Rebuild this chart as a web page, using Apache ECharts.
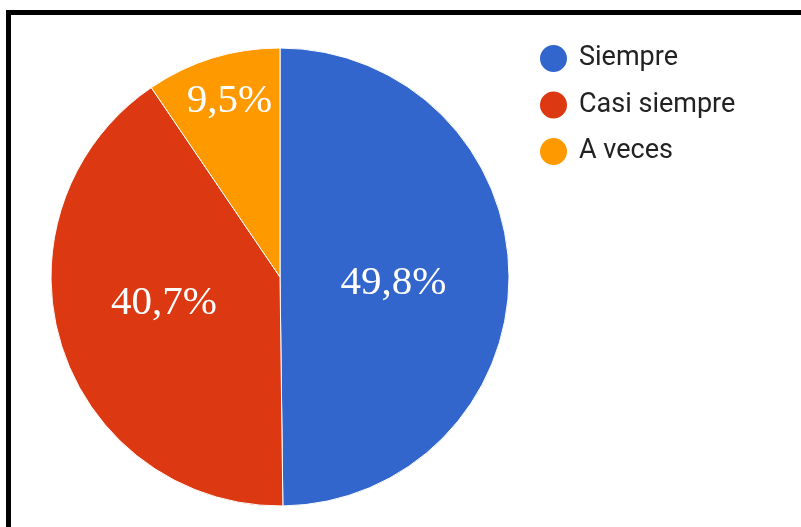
<!DOCTYPE html>
<html>
<head>
<meta charset="utf-8">
<script src="https://cdn.jsdelivr.net/npm/echarts@6/dist/echarts.min.js"></script>
<style>
  html, body { margin: 0; padding: 0; background: #fff; }
  #chart { width: 801px; height: 527px; }
</style>
</head>
<body>
<div id="chart"></div>
<script>
// datos
var categories = ['Siempre', 'Casi siempre', 'A veces'];
var values = [49.8, 40.7, 9.5];
var colors = ['#3366CC', '#DC3912', '#FF9900'];

// small nudges so labels sit where google charts put them
var labelNudges = [[-4, 7], [-4, -9], [-16, -63]];

var pieData = categories.map(function (name, i) {
  return {
    name: name,
    value: values[i],
    itemStyle: { color: colors[i] },
    label: { offset: labelNudges[i] }
  };
});

var option = {
  animation: false,
  backgroundColor: '#fff',
  graphic: [
    {
      type: 'rect',
      shape: { x: 8.5, y: 12.5, width: 900, height: 600 },
      style: { fill: 'none', stroke: '#000', lineWidth: 5 },
      z: 10
    }
  ],
  legend: {
    orient: 'vertical',
    left: 533,
    top: 38,
    icon: 'circle',
    itemWidth: 29,
    itemHeight: 29,
    itemGap: 15.5,
    data: categories,
    textStyle: {
      fontFamily: 'Roboto',
      fontSize: 27,
      color: '#222',
      padding: [0, 0, 0, 6]
    }
  },
  series: [
    {
      type: 'pie',
      center: [280, 277],
      radius: [0, 229],
      startAngle: 90,
      clockwise: true,
      silent: true,
      itemStyle: { borderColor: '#fff', borderWidth: 1 },
      label: {
        show: true,
        position: 'inside',
        color: '#fff',
        fontFamily: 'Liberation Serif',
        fontSize: 41,
        formatter: function (p) {
          return p.value.toFixed(1).replace('.', ',') + '%';
        }
      },
      labelLine: { show: false },
      data: pieData
    }
  ]
};

var chart = echarts.init(document.getElementById('chart'));
chart.setOption(option);
</script>
</body>
</html>
